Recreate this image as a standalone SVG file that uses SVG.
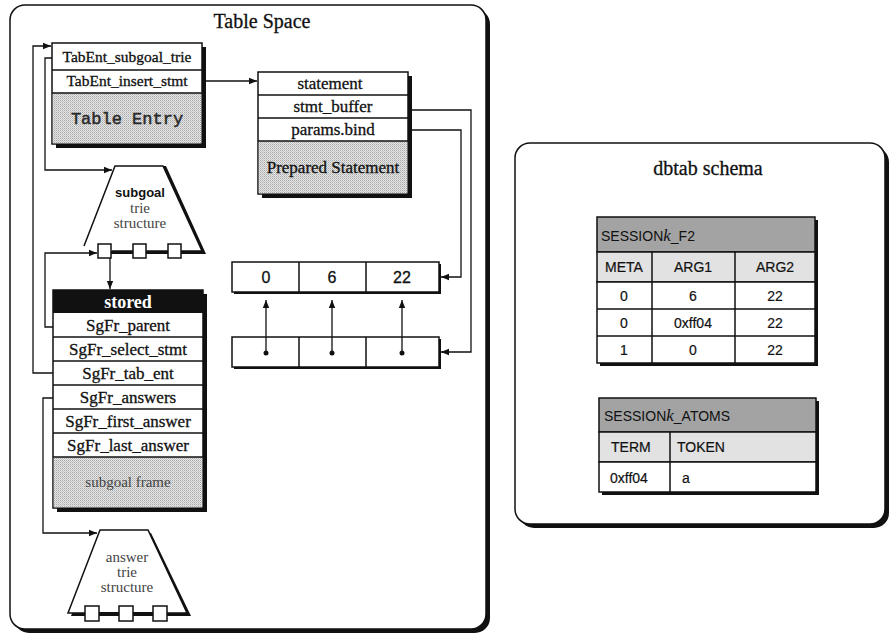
<svg xmlns="http://www.w3.org/2000/svg" width="891" height="636" viewBox="0 0 891 636">
  <style>
    .frame { fill: #ffffff; stroke: #111111; stroke-width: 1.5; }
    .shadow { fill: #111111; }
    .cell { fill: #ffffff; stroke: #111111; stroke-width: 1.5; }
    .line { fill: none; stroke: #111111; stroke-width: 1.5; }
    .conn { fill: none; stroke: #111111; stroke-width: 1.3; }
    .serif { font-family: "Liberation Serif", "DejaVu Serif", serif; fill: #111111; text-anchor: middle; }
    .mono { font-family: "Liberation Mono", "DejaVu Sans Mono", monospace; fill: #2a2a2a; text-anchor: middle; stroke: #2a2a2a; stroke-width: 0.5; }
    .sans { font-family: "Liberation Sans", Arial, sans-serif; fill: #111111; }
    .ink { stroke: #111111; stroke-width: 0.3; }
    .tink { stroke: #111111; stroke-width: 0.2; }
    .title { font-size: 20px; }
    .row15 { font-size: 15.5px; }
    .row17 { font-size: 17px; }
    .trie { font-size: 15px; fill: #444444; }
    .num { font-size: 16px; text-anchor: middle; }
    .tbl { font-size: 14px; }
    .mid { text-anchor: middle; }
    .hdr { fill: #a3a3a3; stroke: #111111; stroke-width: 1.5; }
    .colhdr { fill: #e2e2e2; stroke: #111111; stroke-width: 1.5; }
  </style>
  <defs>
    <pattern id="dots" width="2" height="2" patternUnits="userSpaceOnUse">
      <rect width="2" height="2" fill="#e6e6e6"/>
      <rect width="1" height="1" fill="#a8a8a8"/>
      <rect x="1" y="1" width="1" height="1" fill="#c4c4c4"/>
    </pattern>
    <marker id="arrow" viewBox="0 0 10 10" refX="10" refY="5" markerWidth="8" markerHeight="8" markerUnits="userSpaceOnUse" orient="auto">
      <path d="M0,1 L10,5 L0,9 Z" fill="#111111"/>
    </marker>
  </defs>

  <!-- outer containers -->
  <g id="table-space">
    <rect x="14" y="9" width="476" height="624" rx="15" class="shadow"/>
    <rect x="10" y="5" width="476" height="624" rx="15" class="frame"/>
    <text x="262" y="28" class="serif title ink">Table Space</text>
  </g>

  <g id="dbtab-schema">
    <rect x="519" y="147" width="370" height="381" rx="15" class="shadow"/>
    <rect x="515" y="143" width="370" height="381" rx="15" class="frame"/>
    <text x="708" y="175" class="serif title ink">dbtab schema</text>
  </g>

  <!-- Table Entry record -->
  <g id="table-entry">
    <rect x="56" y="47" width="150" height="101" class="shadow"/>
    <rect x="52" y="43" width="150" height="101" class="cell"/>
    <rect x="52.75" y="93" width="148.5" height="50.25" fill="url(#dots)"/>
    <line x1="52" y1="70" x2="202" y2="70" class="line"/>
    <line x1="52" y1="93" x2="202" y2="93" class="line"/>
    <text x="127" y="62" class="serif row15 ink">TabEnt_subgoal_trie</text>
    <text x="127" y="86" class="serif row15 ink">TabEnt_insert_stmt</text>
    <text x="127" y="124" class="mono" font-size="17">Table Entry</text>
  </g>

  <!-- Prepared Statement record -->
  <g id="prepared-statement">
    <rect x="262" y="76" width="150" height="122" class="shadow"/>
    <rect x="258" y="72" width="150" height="122" class="cell"/>
    <rect x="258.75" y="141" width="148.5" height="52.25" fill="url(#dots)"/>
    <line x1="258" y1="95" x2="408" y2="95" class="line"/>
    <line x1="258" y1="118" x2="408" y2="118" class="line"/>
    <line x1="258" y1="141" x2="408" y2="141" class="line"/>
    <text x="330" y="89" class="serif row17 ink">statement</text>
    <text x="333" y="112" class="serif row17 ink">stmt_buffer</text>
    <text x="333" y="135" class="serif row17 ink">params.bind</text>
    <text x="333" y="173" class="serif row17 ink">Prepared Statement</text>
  </g>

  <!-- subgoal trie -->
  <g id="subgoal-trie">
    <path d="M117,166 L166,166 L206,254 L116,254 Z" class="shadow"/>
    <path d="M84,246 L115,166 L163,166 L202,251 L112,251" fill="#ffffff" stroke="#111111" stroke-width="1.5"/>
    <line x1="105" y1="252.5" x2="176" y2="252.5" stroke="#111111" stroke-width="3"/>
    <rect x="98" y="244" width="13" height="14" class="cell"/>
    <rect x="133" y="244" width="13" height="14" class="cell"/>
    <rect x="168" y="244" width="13" height="14" class="cell"/>
    <text x="140" y="197" class="sans mid" font-size="13" font-weight="bold">subgoal</text>
    <text x="140" y="213" class="serif trie">trie</text>
    <text x="140" y="228" class="serif trie">structure</text>
  </g>

  <!-- subgoal frame record -->
  <g id="subgoal-frame">
    <rect x="57" y="294" width="150" height="218" class="shadow"/>
    <rect x="53" y="290" width="150" height="218" class="cell"/>
    <rect x="53" y="290" width="150" height="23" fill="#111111"/>
    <rect x="53.75" y="457" width="148.5" height="50.25" fill="url(#dots)"/>
    <line x1="53" y1="337" x2="203" y2="337" class="line"/>
    <line x1="53" y1="361" x2="203" y2="361" class="line"/>
    <line x1="53" y1="385" x2="203" y2="385" class="line"/>
    <line x1="53" y1="409" x2="203" y2="409" class="line"/>
    <line x1="53" y1="433" x2="203" y2="433" class="line"/>
    <line x1="53" y1="457" x2="203" y2="457" class="line"/>
    <text x="128" y="308" class="serif" font-size="18" font-weight="bold" style="fill:#ffffff">stored</text>
    <text x="128" y="331" class="serif row17 ink">SgFr_parent</text>
    <text x="128" y="355" class="serif row17 ink">SgFr_select_stmt</text>
    <text x="128" y="379" class="serif row17 ink">SgFr_tab_ent</text>
    <text x="128" y="403" class="serif row17 ink">SgFr_answers</text>
    <text x="128" y="427" class="serif row17 ink">SgFr_first_answer</text>
    <text x="128" y="451" class="serif row17 ink">SgFr_last_answer</text>
    <text x="128" y="487" class="serif trie">subgoal frame</text>
  </g>

  <!-- answer trie -->
  <g id="answer-trie">
    <path d="M102,533 L151,533 L191,616 L71,616 Z" class="shadow"/>
    <path d="M68,613 L100,530 L148,530 L187,613 Z" fill="#ffffff" stroke="#111111" stroke-width="1.5"/>
    <line x1="92" y1="613.5" x2="160" y2="613.5" stroke="#111111" stroke-width="3"/>
    <rect x="85" y="606" width="14" height="15" class="cell"/>
    <rect x="119" y="606" width="14" height="15" class="cell"/>
    <rect x="153" y="606" width="14" height="15" class="cell"/>
    <text x="127" y="562" class="serif trie">answer</text>
    <text x="127" y="577" class="serif trie">trie</text>
    <text x="127" y="592" class="serif trie">structure</text>
  </g>

  <!-- bound parameter arrays -->
  <g id="values-array">
    <rect x="234" y="264" width="207" height="30" class="shadow"/>
    <rect x="232" y="262" width="207" height="30" class="cell"/>
    <line x1="299" y1="262" x2="299" y2="292" class="line"/>
    <line x1="366" y1="262" x2="366" y2="292" class="line"/>
    <text x="266" y="283" class="sans num ink">0</text>
    <text x="332" y="283" class="sans num ink">6</text>
    <text x="402" y="283" class="sans num ink">22</text>
  </g>

  <g id="bind-array">
    <rect x="234" y="339" width="207" height="30" class="shadow"/>
    <rect x="232" y="337" width="207" height="30" class="cell"/>
    <line x1="299" y1="337" x2="299" y2="367" class="line"/>
    <line x1="366" y1="337" x2="366" y2="367" class="line"/>
    <circle cx="266" cy="353" r="2.5" fill="#111111"/>
    <circle cx="332" cy="353" r="2.5" fill="#111111"/>
    <circle cx="402" cy="353" r="2.5" fill="#111111"/>
  </g>

  <!-- SESSIONk_F2 table -->
  <g id="session-f2">
    <rect x="600" y="220" width="218" height="146" class="shadow"/>
    <rect x="597" y="217" width="218" height="35" class="hdr"/>
    <rect x="597" y="252" width="218" height="30" class="colhdr"/>
    <rect x="597" y="282" width="218" height="81" class="cell"/>
    <line x1="597" y1="309" x2="815" y2="309" class="line"/>
    <line x1="597" y1="336" x2="815" y2="336" class="line"/>
    <line x1="652" y1="252" x2="652" y2="363" class="line"/>
    <line x1="735" y1="252" x2="735" y2="363" class="line"/>
    <text x="601" y="241" class="sans tbl">SESSION<tspan font-family="'Liberation Serif', serif" font-style="italic" font-size="17">k</tspan>_F2</text>
    <text x="624" y="272" class="sans tbl mid tink" font-size="13">META</text>
    <text x="693" y="272" class="sans tbl mid tink" font-size="13">ARG1</text>
    <text x="775" y="272" class="sans tbl mid tink" font-size="13">ARG2</text>
    <text x="624" y="301" class="sans tbl mid tink">0</text>
    <text x="693" y="301" class="sans tbl mid tink">6</text>
    <text x="775" y="301" class="sans tbl mid tink">22</text>
    <text x="624" y="328" class="sans tbl mid tink">0</text>
    <text x="693" y="328" class="sans tbl mid tink">0xff04</text>
    <text x="775" y="328" class="sans tbl mid tink">22</text>
    <text x="624" y="355" class="sans tbl mid tink">1</text>
    <text x="693" y="355" class="sans tbl mid tink">0</text>
    <text x="775" y="355" class="sans tbl mid tink">22</text>
  </g>

  <!-- SESSIONk_ATOMS table -->
  <g id="session-atoms">
    <rect x="602" y="401" width="217" height="94" class="shadow"/>
    <rect x="599" y="398" width="217" height="34" class="hdr"/>
    <rect x="599" y="432" width="217" height="30" class="colhdr"/>
    <rect x="599" y="462" width="217" height="30" class="cell"/>
    <line x1="670" y1="432" x2="670" y2="492" class="line"/>
    <text x="604" y="421" class="sans tbl">SESSION<tspan font-family="'Liberation Serif', serif" font-style="italic" font-size="17">k</tspan>_ATOMS</text>
    <text x="611" y="452" class="sans tbl tink" font-size="13">TERM</text>
    <text x="677" y="452" class="sans tbl tink" font-size="13">TOKEN</text>
    <text x="610" y="483" class="sans tbl tink">0xff04</text>
    <text x="682" y="483" class="sans tbl tink">a</text>
  </g>

  <!-- connectors -->
  <g id="connectors">
    <path d="M206,81 H257" class="conn" marker-end="url(#arrow)"/>
    <path d="M412,110 H471 V352 H441" class="conn" marker-end="url(#arrow)"/>
    <path d="M412,130 H461 V277 H441" class="conn" marker-end="url(#arrow)"/>
    <path d="M266,353 V300" class="conn" marker-end="url(#arrow)"/>
    <path d="M332,353 V300" class="conn" marker-end="url(#arrow)"/>
    <path d="M402,353 V300" class="conn" marker-end="url(#arrow)"/>
    <path d="M53,373 H33 V46 H51" class="conn" marker-end="url(#arrow)"/>
    <path d="M52,58 H45 V170 H112" class="conn" marker-end="url(#arrow)"/>
    <path d="M53,327 H45 V253 H97" class="conn" marker-end="url(#arrow)"/>
    <path d="M110,258 V289" class="conn" marker-end="url(#arrow)"/>
    <path d="M53,398 H43 V533 H97" class="conn" marker-end="url(#arrow)"/>
  </g>
</svg>
